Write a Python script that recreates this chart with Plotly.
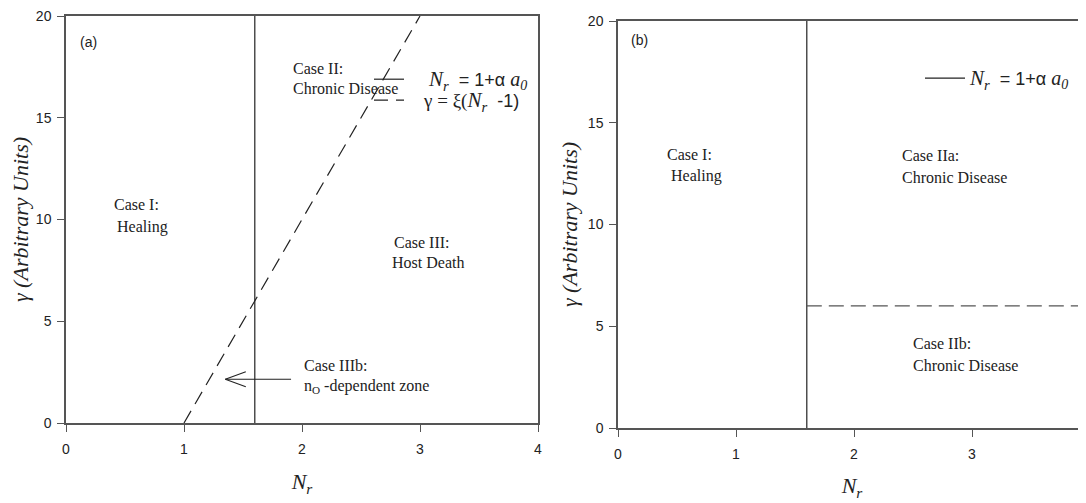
import plotly.graph_objects as go

# ---------------- data ----------------
# panel (a)
a_vline_nr = [1.6, 1.6]          # N_r = 1 + alpha*a0
a_vline_gamma = [0, 20]
a_dash_nr = [1.0, 3.0]           # gamma = xi (N_r - 1)
a_dash_gamma = [0, 20]
a_arrow_tip = [1.35, 2.15]       # arrow pointing to n0-dependent zone
a_arrow_tail = [1.92, 2.15]

# panel (b)
b_vline_nr = [1.6, 1.6]
b_vline_gamma = [0, 20]
b_dash_nr = [1.6, 4.0]
b_dash_gamma = [6, 6]

x_ticks = [0, 1, 2, 3, 4]
y_ticks = [0, 5, 10, 15, 20]

a_labels = [  # (text, N_r, gamma)
    ("Case I:", 0.39, 10.76), ("Healing", 0.415, 9.63),
    ("Case II:", 1.907, 17.40), ("Chronic Disease", 1.907, 16.46),
    ("Case III:", 2.763, 8.89), ("Host Death", 2.746, 7.91),
    ("Case IIIb:", 2.0, 2.85), ("n<sub>O</sub> -dependent zone", 2.0, 1.77),
]
b_labels = [
    ("Case I:", 0.398, 13.46), ("Healing", 0.432, 12.38),
    ("Case IIa:", 2.39, 13.37), ("Chronic Disease", 2.39, 12.29),
    ("Case IIb:", 2.483, 4.13), ("Chronic Disease", 2.483, 3.05),
]

# ---------------- styling ----------------
OFF = 8                      # page body margin
FW, FH = 1086 - OFF, 503 - OFF
SERIF = "Liberation Serif"
SANS = "Liberation Sans"
AXC = "#555555"
LC = "#222222"


def px(xp):
    return (xp - OFF) / FW


def py(yp):
    return 1 - (yp - OFF) / FH


SER_I = "font-family:'Liberation Serif';font-style:italic"
SER = "font-family:'Liberation Serif'"
leg_name1 = ("&nbsp;&nbsp;&nbsp;&nbsp;<span style=\"" + SER_I + ";font-size:21px\">N<sub>r</sub></span>"
             "&nbsp;&nbsp;= 1+α <span style=\"" + SER_I + ";font-size:20px\">a<sub>0</sub></span>")
leg_name2 = ("&nbsp;&nbsp;&nbsp;<span style=\"" + SER + ";font-size:19px\">γ = ξ(</span>"
             "<span style=\"" + SER_I + ";font-size:21px\">N<sub>r</sub></span>&nbsp;&nbsp;-1)")
leg_name_b = ("<span style=\"" + SER_I + ";font-size:21px\">N<sub>r</sub></span>"
              "&nbsp;&nbsp;= 1+α <span style=\"" + SER_I + ";font-size:20px\">a<sub>0</sub></span>")

fig = go.Figure()

fig.add_trace(go.Scatter(x=a_vline_nr, y=a_vline_gamma, mode="lines",
                         line=dict(color=LC, width=1.2), name=leg_name1,
                         xaxis="x", yaxis="y", legend="legend"))
fig.add_trace(go.Scatter(x=a_dash_nr, y=a_dash_gamma, mode="lines",
                         line=dict(color=LC, width=1.2, dash="14px,8px"), name=leg_name2,
                         xaxis="x", yaxis="y", legend="legend3"))
fig.add_trace(go.Scatter(x=b_vline_nr, y=b_vline_gamma, mode="lines",
                         line=dict(color=LC, width=1.2), name=leg_name_b,
                         xaxis="x2", yaxis="y2", legend="legend2"))
fig.add_trace(go.Scatter(x=b_dash_nr, y=b_dash_gamma, mode="lines",
                         line=dict(color="#555555", width=1.2, dash="15px,7px"),
                         showlegend=False, xaxis="x2", yaxis="y2"))

LBL_FONT = dict(family=SERIF, size=16, color=LC)
ann = []
for t, xx, yy in a_labels:
    ann.append(dict(text=t, x=xx, y=yy, xref="x", yref="y", xanchor="left", yanchor="middle",
                    showarrow=False, font=LBL_FONT))
for t, xx, yy in b_labels:
    ann.append(dict(text=t, x=xx, y=yy, xref="x2", yref="y2", xanchor="left", yanchor="middle",
                    showarrow=False, font=LBL_FONT))
ann.append(dict(text="(a)", x=0.10, y=18.72, xref="x", yref="y", xanchor="left", yanchor="middle",
                showarrow=False, font=dict(family=SANS, size=14, color=LC)))
ann.append(dict(text="(b)", x=0.093, y=19.07, xref="x2", yref="y2", xanchor="left", yanchor="middle",
                showarrow=False, font=dict(family=SANS, size=14, color=LC)))
# arrow shaft
ann.append(dict(text="", x=a_arrow_tip[0], y=a_arrow_tip[1], ax=a_arrow_tail[0], ay=a_arrow_tail[1],
                xref="x", yref="y", axref="x", ayref="y", showarrow=True, arrowhead=0,
                arrowwidth=1.1, arrowcolor=LC, standoff=0, startstandoff=0))
# open V arrow head (two arms, pixel offsets from the tip)
for arm_dy in (-8, 8):
    ann.append(dict(text="", x=a_arrow_tip[0], y=a_arrow_tip[1], ax=22, ay=arm_dy,
                    xref="x", yref="y", showarrow=True, arrowhead=0,
                    arrowwidth=1.1, arrowcolor=LC, standoff=0, startstandoff=0))

axis_common = dict(showgrid=False, zeroline=False, showline=True, linecolor=AXC, linewidth=1.5,
                   ticks="outside", tickcolor=AXC, tickwidth=1.2, ticklen=7,
                   ticklabeloverflow="allow",
                   tickfont=dict(family=SANS, size=14, color=LC))
title_font = dict(family=SERIF, size=22, color=LC)
ytitle = "<i>γ (Arbitrary Units)</i>"
xtitle = "<i>N<sub>r</sub></i>"

leg_common = dict(xanchor="left", yanchor="top", bgcolor="rgba(0,0,0,0)", borderwidth=0,
                  font=dict(family=SANS, size=18, color=LC))

fig.update_layout(
    width=FW, height=FH,
    margin=dict(l=0, r=0, t=0, b=0, autoexpand=False),
    paper_bgcolor="white", plot_bgcolor="white",
    xaxis=dict(**axis_common, domain=[px(66), px(538)], range=[0, 4], tickvals=x_ticks,
               mirror=True, anchor="y", ticklabelstandoff=5,
               title=dict(text=xtitle, font=title_font, standoff=18)),
    yaxis=dict(**axis_common, domain=[py(423), py(16)], range=[0, 20], tickvals=y_ticks,
               mirror=True, anchor="x", ticklabelstandoff=3,
               title=dict(text=ytitle, font=title_font, standoff=15)),
    xaxis2=dict(**axis_common, domain=[px(618), 1.0], range=[0, (1086 - 618) / 118], tickvals=x_ticks,
                mirror=True, anchor="y2", ticklabelstandoff=5,
                title=dict(text=xtitle, font=title_font, standoff=17)),
    yaxis2=dict(**axis_common, domain=[py(428), py(21)], range=[0, 20], tickvals=y_ticks,
                mirror=False, anchor="x2", ticklabelstandoff=3,
                title=dict(text=ytitle, font=title_font, standoff=4)),
    legend=dict(**leg_common, x=px(369), y=py(61)),
    legend3=dict(**leg_common, x=px(369), y=py(82)),
    legend2=dict(**leg_common, x=px(920), y=py(60), itemwidth=40),
    annotations=ann,
)

fig.write_html("out.html", config={"displayModeBar": False})
